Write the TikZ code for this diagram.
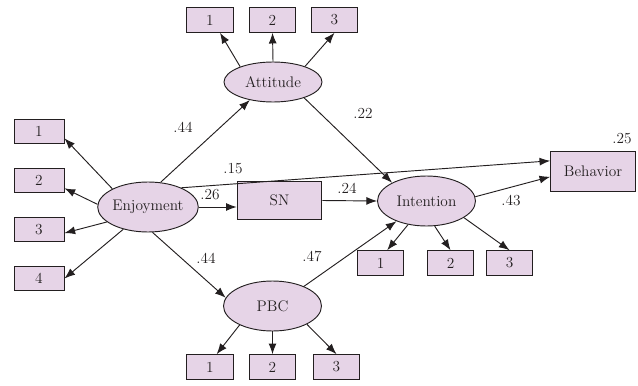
\documentclass[tikz,border=0pt]{standalone}
\usetikzlibrary{shapes.geometric,arrows.meta}
\definecolor{lilac}{RGB}{230,212,231}
\definecolor{ink}{RGB}{35,31,32}

\begin{document}
\begin{tikzpicture}[x=7.5pt,y=7.5pt,
    >={Latex[length=8pt,width=6pt]},
    every node/.style = {font=\fontsize{11.5}{13}\selectfont, text=ink},
    latent/.style = {shape=ellipse, draw=ink, line width=0.7pt, fill=lilac,
        inner sep=0pt, minimum width=73.5pt, minimum height=37.5pt},
    obsbox/.style = {shape=rectangle, draw=ink, line width=0.7pt, fill=lilac,
        inner sep=0pt, minimum width=63.5pt, minimum height=28.5pt},
    indbox/.style = {shape=rectangle, draw=ink, line width=0.7pt, fill=lilac,
        inner sep=0pt, minimum width=35pt, minimum height=18.5pt},
    coef/.style = {inner sep=0pt}]
    \useasboundingbox (0,0) rectangle (63.8,-38.5);
    % latent variables
    \node[latent] (enj) at (14.8, -20.7) {Enjoyment};
    \node[latent, minimum height=30pt] (att) at (27.3, -8.2) {Attitude};
    \node[latent] (int) at (42.65, -20.1) {Intention};
    \node[latent] (pbc) at (27.25, -30.6) {PBC};
    \node[obsbox] (sn) at (27.95, -20.05) {SN};
    \node[obsbox, minimum height=29.5pt] (beh) at (59.3, -17.15) {Behavior};
    % indicators
    \node[indbox, minimum width=37.5pt] (e1) at (3.9, -13.15) {1};
    \node[indbox, minimum width=37.5pt] (e2) at (3.9, -18.05) {2};
    \node[indbox, minimum width=37.5pt] (e3) at (3.9, -22.95) {3};
    \node[indbox, minimum width=37.5pt] (e4) at (3.9, -27.85) {4};
    \node[indbox] (a1) at (21.0, -2.0) {1};
    \node[indbox] (a2) at (27.25, -2.0) {2};
    \node[indbox] (a3) at (33.45, -2.0) {3};
    \node[indbox] (i1) at (38.05, -26.3) {1};
    \node[indbox] (i2) at (45.05, -26.3) {2};
    \node[indbox] (i3) at (50.95, -26.3) {3};
    \node[indbox] (p1) at (21.0, -36.7) {1};
    \node[indbox] (p2) at (27.25, -36.7) {2};
    \node[indbox] (p3) at (33.65, -36.7) {3};
    % path coefficients
    \node[coef] (c1) at (18.3, -12.7) {.44};
    \node[coef] (c2) at (23.3, -16.9) {.15};
    \node[coef] (c3) at (21.0, -19.5) {.26};
    \node[coef] (c4) at (20.6, -25.8) {.44};
    \node[coef] (c5) at (31.2, -25.6) {.47};
    \node[coef] (c6) at (36.3, -11.3) {.22};
    \node[coef] (c7) at (62.2, -13.9) {.25};
    \node[coef] (c8) at (34.7, -18.8) {.24};
    \node[coef] (c9) at (51.1, -20.0) {.43};
    \path[->, color=ink, line width=0.7pt]
        (enj.153) edge (e1.-15)
        (enj.177) edge (e2.-17)
        (enj.200) edge (e3.-8)
        (enj.222) edge (e4.east)
        (att.155) edge ([xshift=7.5pt]a1.south)
        (att.90) edge (a2.south)
        (att.26) edge (a3.south)
        (int.232) edge ([xshift=5pt]i1.north)
        (int.288) edge (i2.north)
        (int.336) edge (i3.north)
        (pbc.210) edge ([xshift=5pt]p1.north)
        (pbc.270) edge (p2.north)
        (pbc.332) edge (p3.north)
        (enj.63) edge (att.218)
        (enj.30) edge (beh.166)
        (enj.east) edge (enj.east -| sn.west)
        (enj.280) edge (pbc.170)
        (att.333) edge (int.152)
        (sn.east) edge (int.west)
        (pbc.32) edge (int.214)
        (int.5) edge (beh.187);
\end{tikzpicture}
\end{document}
